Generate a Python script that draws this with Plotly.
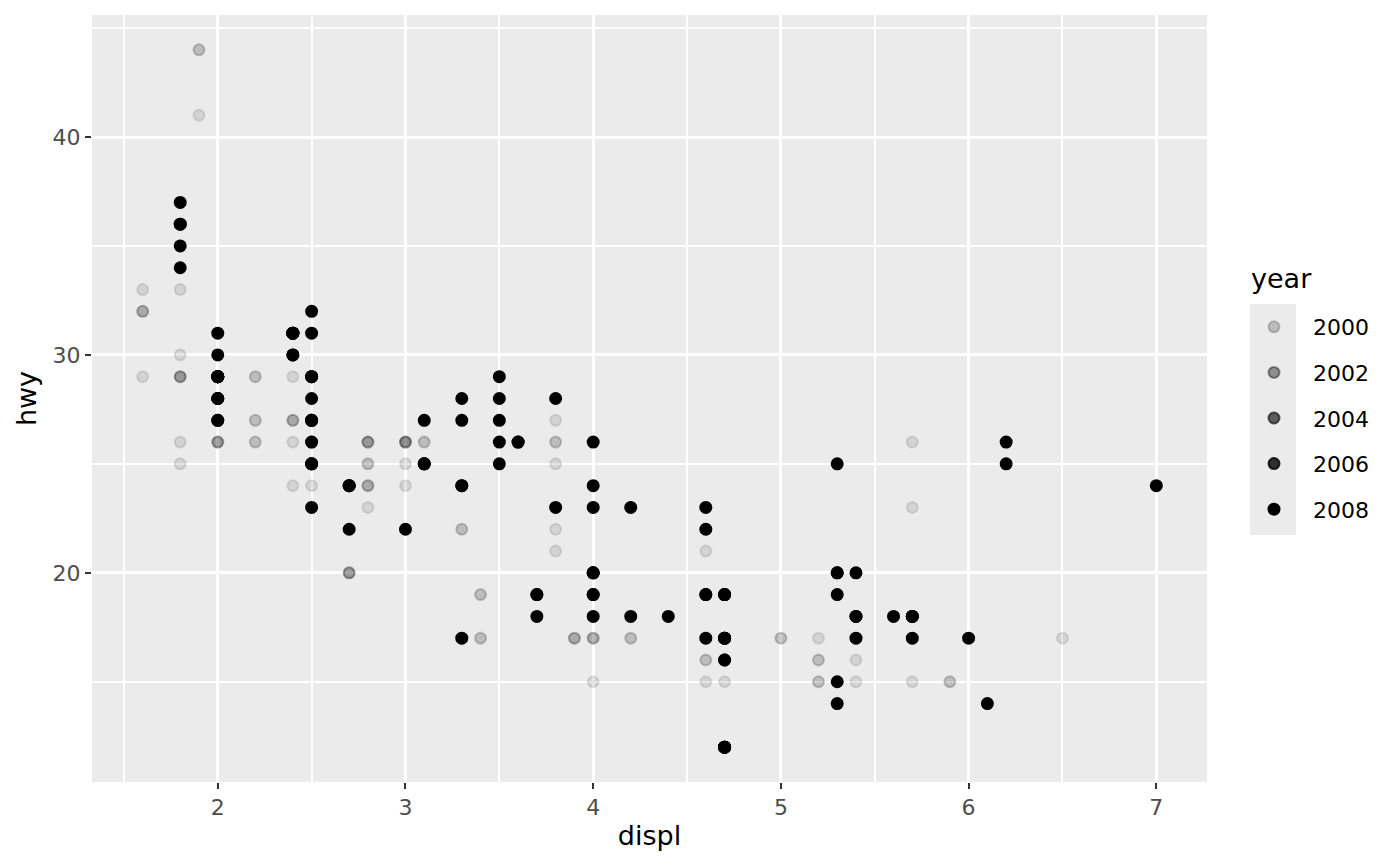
import plotly.graph_objects as go

# mpg data (displ, hwy, year)
displ = [1.8,1.8,2.0,2.0,2.8,2.8,3.1,1.8,1.8,2.0,2.0,2.8,2.8,3.1,3.1,2.8,3.1,4.2,
         5.3,5.3,5.3,5.7,6.0,5.7,5.7,6.2,6.2,7.0,5.3,5.3,5.7,6.5,2.4,2.4,3.1,3.5,3.6,
         2.4,3.0,3.3,3.3,3.3,3.3,3.3,3.8,3.8,3.8,4.0,3.7,3.7,3.9,3.9,4.7,4.7,4.7,5.2,5.2,
         3.9,4.7,4.7,4.7,5.2,5.7,5.9,4.7,4.7,4.7,4.7,4.7,4.7,5.2,5.2,5.7,5.9,
         4.6,5.4,5.4,4.0,4.0,4.0,4.0,4.6,5.0,4.2,4.2,4.6,4.6,4.6,5.4,5.4,
         3.8,3.8,4.0,4.0,4.6,4.6,4.6,4.6,5.4,
         1.6,1.6,1.6,1.6,1.6,1.8,1.8,1.8,2.0,
         2.4,2.4,2.4,2.4,2.5,2.5,3.3,2.0,2.0,2.0,2.0,2.7,2.7,2.7,
         3.0,3.7,4.0,4.7,4.7,4.7,5.7,6.1,4.0,4.2,4.4,4.6,5.4,5.4,5.4,4.0,4.0,4.6,5.0,
         2.4,2.4,2.5,2.5,3.5,3.5,3.0,3.0,3.5,3.3,3.3,4.0,5.6,
         3.1,3.8,3.8,3.8,5.3,
         2.5,2.5,2.5,2.5,2.5,2.5,2.2,2.2,2.5,2.5,2.5,2.5,2.5,2.5,
         2.7,2.7,3.4,3.4,4.0,4.7,2.2,2.2,2.4,2.4,3.0,3.0,3.5,2.2,2.2,2.4,2.4,3.0,3.0,3.3,
         1.8,1.8,1.8,1.8,1.8,4.7,5.7,2.7,2.7,2.7,3.4,3.4,4.0,4.0,
         2.0,2.0,2.0,2.0,2.8,1.9,2.0,2.0,2.0,2.0,2.5,2.5,2.8,2.8,
         1.9,1.9,2.0,2.0,2.5,2.5,1.8,1.8,2.0,2.0,2.8,2.8,3.6]
hwy = [29,29,31,30,26,26,27,26,25,28,27,25,25,25,25,24,25,23,
       20,15,20,17,17,26,23,26,25,24,19,14,15,17,27,30,26,29,26,
       24,24,22,22,24,24,17,22,21,23,23,19,18,17,17,19,19,12,17,15,
       17,17,17,12,16,18,15,16,12,17,17,16,12,15,16,17,15,
       17,17,18,17,19,17,19,19,17,17,17,16,16,17,15,17,
       26,25,26,24,21,22,23,22,20,
       33,32,32,29,32,34,36,36,29,
       26,27,30,31,26,26,28,26,29,28,27,24,24,24,
       22,19,20,17,12,19,18,14,15,18,18,15,17,16,18,17,19,19,17,
       29,27,31,32,27,26,26,25,25,17,17,20,18,
       26,26,27,28,25,
       25,24,27,25,26,23,26,26,26,26,25,27,25,27,
       20,20,19,17,20,17,29,27,31,31,26,26,28,27,29,31,31,26,26,27,
       30,33,35,37,35,15,18,20,20,22,17,19,18,20,
       29,26,29,29,24,44,29,26,29,29,29,29,23,24,
       44,41,29,26,28,29,29,29,28,29,26,26,26]
year = [1999,1999,2008,2008,1999,1999,2008,1999,1999,2008,2008,1999,1999,2008,2008,1999,2008,2008,
        2008,2008,2008,1999,2008,1999,1999,2008,2008,2008,2008,2008,1999,1999,1999,2008,1999,2008,2008,
        1999,1999,1999,1999,2008,2008,2008,1999,1999,2008,2008,2008,2008,1999,1999,2008,2008,2008,1999,1999,
        1999,1999,2008,2008,1999,2008,1999,2008,2008,2008,2008,2008,2008,1999,1999,2008,1999,
        1999,1999,2008,1999,1999,1999,2008,2008,1999,1999,1999,1999,1999,2008,1999,2008,
        1999,1999,2008,2008,1999,1999,2008,2008,2008,
        1999,1999,1999,1999,1999,2008,2008,2008,2008,
        1999,1999,2008,2008,1999,1999,2008,1999,1999,2008,2008,2008,2008,2008,
        2008,2008,1999,1999,2008,2008,2008,2008,1999,2008,2008,1999,1999,1999,2008,1999,2008,2008,1999,
        1999,1999,2008,2008,2008,2008,1999,1999,2008,1999,1999,2008,2008,
        1999,1999,1999,2008,2008,
        1999,1999,2008,2008,2008,2008,1999,1999,1999,1999,2008,2008,2008,2008,
        1999,1999,1999,1999,2008,2008,1999,1999,2008,2008,1999,1999,2008,1999,1999,2008,2008,1999,1999,2008,
        1999,1999,1999,2008,2008,1999,2008,1999,1999,2008,1999,1999,2008,2008,
        1999,1999,2008,2008,1999,1999,1999,1999,2008,2008,2008,2008,1999,1999,
        1999,1999,1999,1999,2008,2008,1999,1999,2008,2008,1999,1999,2008]

legend_years = [2000, 2002, 2004, 2006, 2008]
x_ticks = [2, 3, 4, 5, 6, 7]
y_ticks = [20, 30, 40]

ymin, ymax = min(year), max(year)


def alpha_of(y):
    return 0.1 + 0.9 * (y - ymin) / (ymax - ymin)


def rgba(a):
    return f"rgba(0,0,0,{a:.3f})"


cols = [rgba(alpha_of(y)) for y in year]

fig = go.Figure()
fig.add_trace(go.Scatter(
    x=displ, y=hwy, mode="markers", showlegend=False,
    marker=dict(size=11, color=cols, line=dict(color=cols, width=2)),
))

for i, ly in enumerate(legend_years):
    c = rgba(alpha_of(ly))
    fig.add_trace(go.Scatter(
        x=[None], y=[None], mode="markers", name=str(ly), legendgroup=f"g{i}",
        marker=dict(size=11, color=c, line=dict(color=c, width=2)),
    ))

font_family = "DejaVu Sans"

xr = [min(displ) - 0.05 * (max(displ) - min(displ)), max(displ) + 0.05 * (max(displ) - min(displ))]
yr = [min(hwy) - 0.05 * (max(hwy) - min(hwy)), max(hwy) + 0.05 * (max(hwy) - min(hwy))]

axis_common = dict(
    showline=False, zeroline=False, showgrid=True, gridcolor="white", gridwidth=2.9,
    ticks="outside", ticklen=6, tickwidth=2, tickcolor="#333333",
    tickfont=dict(family=font_family, size=22, color="#4D4D4D"),
)

# page offset of the plot div (browser body margin)
OFF = 8
PX0, PX1, PY0, PY1 = 92, 1207, 15, 782  # panel in page pixels


def px(x):
    return (x - PX0) / (PX1 - PX0)


def py(y):
    return (PY1 - y) / (PY1 - PY0)


fig.update_layout(
    width=1400 - OFF, height=866 - OFF,
    margin=dict(l=PX0 - OFF, r=1400 - PX1, t=PY0 - OFF, b=866 - PY1),
    paper_bgcolor="white", plot_bgcolor="#EBEBEB",
    font=dict(family=font_family, color="black"),
    xaxis=dict(range=xr, tickvals=x_ticks, ticktext=[str(v) for v in x_ticks],
               minor=dict(dtick=0.5, tick0=1.5, showgrid=True, gridcolor="white", gridwidth=1.5, ticklen=0),
               title=dict(text="displ", font=dict(size=27, family=font_family, color="black"), standoff=6),
               **axis_common),
    yaxis=dict(range=yr, tickvals=y_ticks, ticktext=[str(v) for v in y_ticks],
               minor=dict(dtick=5, tick0=15, showgrid=True, gridcolor="white", gridwidth=1.5, ticklen=0),
               title=dict(text="hwy", font=dict(size=27, family=font_family, color="black"), standoff=8),
               **axis_common),
    legend=dict(
        x=px(1235), xanchor="left", y=py(306), yanchor="top",
        font=dict(size=22, family=font_family, color="black"),
        itemwidth=68, tracegroupgap=14, bgcolor="rgba(0,0,0,0)", itemclick=False,
    ),
    annotations=[dict(text="year", xref="paper", yref="paper", x=px(1249), y=py(278),
                      xanchor="left", yanchor="middle", showarrow=False,
                      font=dict(size=27, family=font_family, color="black"))],
    shapes=[dict(type="rect", xref="paper", yref="paper",
                 x0=px(1250), x1=px(1296), y0=py(535), y1=py(304),
                 fillcolor="#EBEBEB", line=dict(width=0), layer="below")],
)

fig.write_html("out.html")
